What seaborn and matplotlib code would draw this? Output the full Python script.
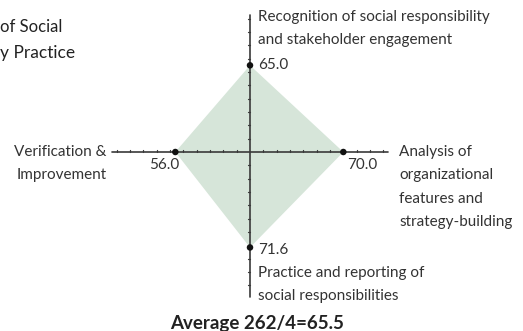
import matplotlib
matplotlib.use("Agg")
import matplotlib.pyplot as plt
import seaborn as sns
import pandas as pd
import numpy as np

# Scores for the four assessment dimensions (top, right, bottom, left)
dimensions = [
    "Recognition of social responsibility\nand stakeholder engagement",
    "Analysis of\norganizational\nfeatures and\nstrategy-building",
    "Practice and reporting of\nsocial responsibilities",
    "Verification &\nImprovement",
]
scores = [65.0, 70.0, 71.6, 56.0]
directions = [(0, 1), (1, 0), (0, -1), (-1, 0)]
average_label = "Average 262/4=65.5"
title_lines = ["of Social", "y Practice"]

sns.set_theme(style="white")
plt.rcParams["font.family"] = ["Lato", "DejaVu Sans"]

W, H, DPI = 523, 331, 100
fig = plt.figure(figsize=(W / DPI, H / DPI), dpi=DPI)
ax = fig.add_axes([0, 0, 1, 1])

# pixel layout: origin of the diamond and pixels per score unit
CX, CY, PX = 250, 152, 1.3333


def to_data(px, py):
    return (px - CX) / PX, (CY - py) / PX


x0, x1 = to_data(0, 0)[0], to_data(W, 0)[0]
y1, y0 = to_data(0, 0)[1], to_data(0, H)[1]
ax.set_xlim(x0, x1)
ax.set_ylim(y0, y1)
ax.set_aspect("equal")
ax.axis("off")

df = pd.DataFrame({
    "dimension": dimensions,
    "score": scores,
    "x": [s * d[0] for s, d in zip(scores, directions)],
    "y": [s * d[1] for s, d in zip(scores, directions)],
})

# filled diamond
ax.fill(df["x"], df["y"], color="#d6e5d9", lw=0, zorder=1)

# axis arms with tick marks every 10 points
axis_col = "#3a3a3a"
arm = {"up": 103, "down": 109, "left": 103.5, "right": 103.5}
ax.plot([-arm["left"], arm["right"]], [0, 0], color=axis_col, lw=1.2, zorder=2)
ax.plot([0, 0], [-arm["down"], arm["up"]], color=axis_col, lw=1.2, zorder=2)
tl = 2.4 / PX
for v in range(10, 101, 10):
    for sx in (1, -1):
        ax.plot([sx * v, sx * v], [0, tl], color=axis_col, lw=0.9, zorder=2)
    for sy in (1, -1):
        ax.plot([-tl, 0], [sy * v, sy * v], color=axis_col, lw=0.9, zorder=2)

# score points
sns.scatterplot(data=df, x="x", y="y", color="#111111", s=22, edgecolor="none",
                ax=ax, zorder=4, legend=False)

txt = dict(color="#333333", fontsize=11, linespacing=1.85)

# dimension labels
ax.text(*to_data(258, 10), dimensions[0], ha="left", va="top", **txt)
ax.text(*to_data(399, 145), dimensions[1], ha="left", va="top", **txt)
ax.text(*to_data(258, 266), dimensions[2], ha="left", va="top", **txt)
ax.text(*to_data(107, 145), dimensions[3], ha="right", va="top", **txt)

# value labels
ax.text(df.x[0] + 6, df.y[0], f"{scores[0]:.1f}", ha="left", va="center", **txt)
ax.text(df.x[1] + 3, df.y[1] - 4.5, f"{scores[1]:.1f}", ha="left", va="top", **txt)
ax.text(df.x[2] + 6, df.y[2] - 2, f"{scores[2]:.1f}", ha="left", va="center", **txt)
ax.text(df.x[3] + 3, df.y[3] - 4.5, f"{scores[3]:.1f}", ha="right", va="top", **txt)

# average
ax.text(*to_data(257, 323), average_label, ha="center", va="center",
        color="#222222", fontsize=13.5, fontweight="bold")

# title lines
ax.text(*to_data(0, 27), title_lines[0], ha="left", va="center",
        color="#222222", fontsize=12)
ax.text(*to_data(0, 53), title_lines[1], ha="left", va="center",
        color="#222222", fontsize=12.5)

fig.savefig("out.png", dpi=DPI)
